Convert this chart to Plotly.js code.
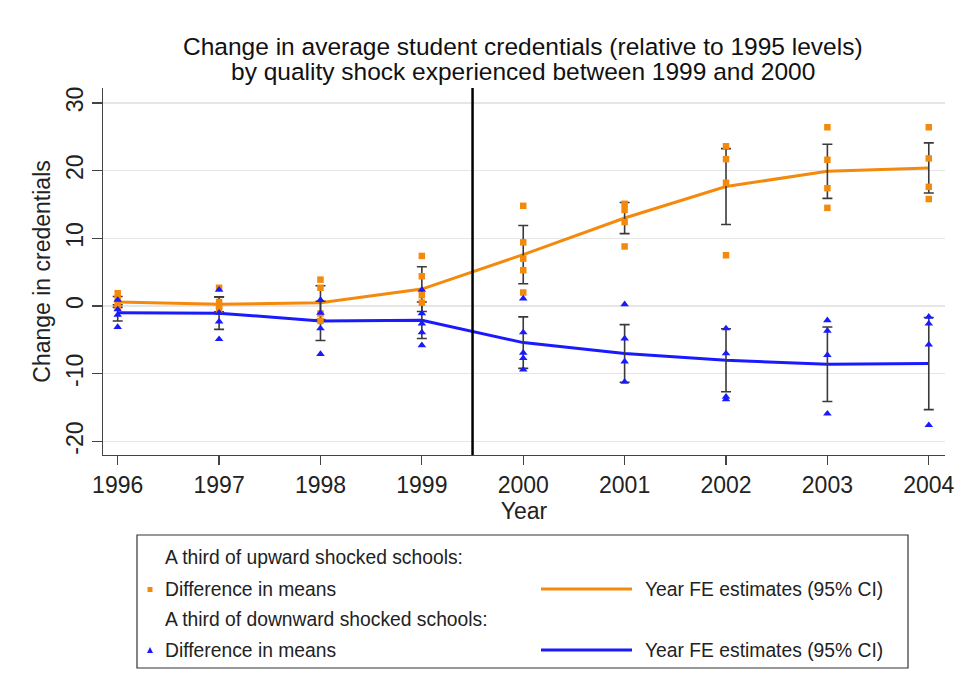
<!DOCTYPE html>
<html>
<head>
<meta charset="utf-8">
<script src="https://cdn.plot.ly/plotly-3.0.1.min.js"></script>
<style>html,body{margin:0;padding:0;background:#fff;}#chart{width:960px;height:673px;}</style>
</head>
<body>
<div id="chart"></div>
<script>
// ---- data ----
const years = [1996, 1997, 1998, 1999, 2000, 2001, 2002, 2003, 2004];

// Year FE estimates (fitted lines) and 95% CI half-widths
const upFE      = [0.6, 0.25, 0.5, 2.5, 7.6, 13.0, 17.65, 19.9, 20.4];
const upCI      = [0.8, 1.1, 2.5, 3.3, 4.3, 2.3, 5.6, 4.0, 3.7];
const downFE    = [-1.0, -1.05, -2.2, -2.1, -5.4, -7.0, -8.0, -8.6, -8.5];
const downCI    = [1.2, 2.4, 2.9, 2.7, 3.8, 4.25, 4.65, 5.5, 6.8];

// Difference in means (several per year)
const upMeans = [
  [1.9, 1.0, 0.4, -0.2],
  [2.7, 0.6, 0.0, -0.6],
  [3.9, 2.7, -1.1, -2.2],
  [7.4, 4.4, 1.6, 0.5],
  [14.8, 9.4, 7.0, 5.3, 2.0],
  [15.1, 14.2, 12.4, 8.8],
  [23.6, 21.7, 18.2, 7.5],
  [26.4, 21.6, 17.4, 14.5],
  [26.4, 21.8, 17.6, 15.8]
];
const downMeans = [
  [0.9, -0.5, -1.3, -3.1],
  [2.4, -1.0, -2.3, -4.9],
  [0.9, -1.0, -3.3, -7.1],
  [2.4, -1.1, -2.6, -3.9, -5.8],
  [1.1, -3.9, -6.9, -7.7, -9.4],
  [0.25, -4.8, -8.2, -11.2],
  [-3.3, -7.0, -13.4, -13.8],
  [-2.1, -3.65, -7.25, -15.9],
  [-1.6, -2.6, -5.7, -17.6]
];
const shockYear = 1999.5;

const titleLines = ['Change in average student credentials (relative to 1995 levels)',
                    'by quality shock experienced between 1999 and 2000'];
const yTitle = 'Change in credentials';
const xTitle = 'Year';
const yTicks = [-20, -10, 0, 10, 20, 30];
const legendHeaders = ['A third of upward shocked schools:', 'A third of downward shocked schools:'];
const legendMeans = 'Difference in means';
const legendFE = 'Year FE estimates (95% CI)';

// ---- styles ----
const ORANGE = '#f48a0c';
const BLUE = '#1a1aff';
const FONT = 'Liberation Sans, Arial, sans-serif';

function flatten(groups) {
  const xs = [], ys = [];
  groups.forEach((g, i) => g.forEach(v => { xs.push(years[i]); ys.push(v); }));
  return {x: xs, y: ys};
}
const upPts = flatten(upMeans);
const downPts = flatten(downMeans);

const traces = [
  {x: years, y: upFE, mode: 'lines', line: {color: ORANGE, width: 3}, hoverinfo: 'skip'},
  {x: years, y: downFE, mode: 'lines', line: {color: BLUE, width: 3}, hoverinfo: 'skip'},
  {x: years, y: upFE, mode: 'markers', marker: {size: 1, color: 'rgba(0,0,0,0)'},
   error_y: {type: 'data', array: upCI, color: '#3a3a3a', thickness: 1.6, width: 5}},
  {x: years, y: downFE, mode: 'markers', marker: {size: 1, color: 'rgba(0,0,0,0)'},
   error_y: {type: 'data', array: downCI, color: '#3a3a3a', thickness: 1.6, width: 5}},
  {x: upPts.x, y: upPts.y, mode: 'markers', marker: {symbol: 'square', size: 6.5, color: ORANGE}},
  {x: downPts.x, y: downPts.y, mode: 'markers', marker: {symbol: 'triangle-up', size: 7.5, color: BLUE}}
];

// plot area in pixels
const L = 103, R = 945, T = 88, B = 455;
const fx = px => (px - L) / (R - L);
const fy = py => (B - py) / (B - T);

const shapes = [
  {type: 'line', xref: 'x', yref: 'paper', x0: shockYear, x1: shockYear, y0: 0, y1: 1,
   line: {color: '#000', width: 2.5}},
  // legend box
  {type: 'rect', xref: 'paper', yref: 'paper', x0: fx(137), x1: fx(908), y0: fy(535), y1: fy(668),
   line: {color: '#333', width: 1.2}, fillcolor: 'rgba(0,0,0,0)'},
  // legend symbols
  {type: 'rect', xref: 'paper', yref: 'paper', x0: fx(147.5), x1: fx(152.5), y0: fy(587), y1: fy(592),
   line: {width: 0}, fillcolor: ORANGE},
  {type: 'path', xref: 'paper', yref: 'paper',
   path: `M ${fx(147)} ${fy(653)} L ${fx(153)} ${fy(653)} L ${fx(150)} ${fy(647)} Z`,
   line: {width: 0}, fillcolor: BLUE},
  {type: 'line', xref: 'paper', yref: 'paper', x0: fx(541), x1: fx(632), y0: fy(589), y1: fy(589),
   line: {color: ORANGE, width: 3}},
  {type: 'line', xref: 'paper', yref: 'paper', x0: fx(541), x1: fx(632), y0: fy(650), y1: fy(650),
   line: {color: BLUE, width: 3}}
];

const legFont = {family: FONT, size: 19.3, color: '#222'};
const ann = (text, px, py) => ({text, xref: 'paper', yref: 'paper', x: fx(px), y: fy(py),
  xanchor: 'left', yanchor: 'middle', showarrow: false, font: legFont});
const titleFont = {family: FONT, size: 24.5, color: '#111'};
const tAnn = (text, py) => ({text, xref: 'paper', yref: 'paper', x: fx(523), y: fy(py),
  xanchor: 'center', yanchor: 'middle', showarrow: false, font: titleFont});
const annotations = [
  tAnn(titleLines[0], 46),
  tAnn(titleLines[1], 71),
  ann(legendHeaders[0], 163, 557),
  ann(legendMeans, 163, 589),
  ann(legendFE, 643, 589),
  ann(legendHeaders[1], 163, 619),
  ann(legendMeans, 163, 650),
  ann(legendFE, 643, 650)
];

const layout = {
  width: 960, height: 673,
  margin: {l: L, r: 960 - R, t: T, b: 673 - B},
  paper_bgcolor: '#fff', plot_bgcolor: '#fff',
  showlegend: false,
  font: {family: FONT, color: '#222'},
  xaxis: {range: [1995.855, 2004.16], tickmode: 'array', tickvals: years, ticktext: years.map(String),
          ticks: 'outside', ticklen: 9, tickwidth: 1.2, tickcolor: '#444',
          showline: true, linecolor: '#444', linewidth: 1.2, showgrid: false, zeroline: false,
          tickfont: {family: FONT, size: 23, color: '#222'},
          title: {text: xTitle, font: {family: FONT, size: 23, color: '#222'}, standoff: 0}},
  yaxis: {range: [-22.0, 32.2], tickmode: 'array', tickvals: yTicks, ticktext: yTicks.map(String),
          tickangle: -90, ticks: 'outside', ticklen: 10, tickwidth: 1.2, tickcolor: '#444',
          showline: true, linecolor: '#444', linewidth: 1.2,
          showgrid: true, gridcolor: '#e6e6e6', gridwidth: 1.2, zeroline: false,
          tickfont: {family: FONT, size: 23, color: '#222'},
          title: {text: yTitle, font: {family: FONT, size: 23, color: '#222'}, standoff: 4}},
  shapes, annotations
};

Plotly.newPlot('chart', traces, layout, {displayModeBar: false, staticPlot: true});
</script>
</body>
</html>
